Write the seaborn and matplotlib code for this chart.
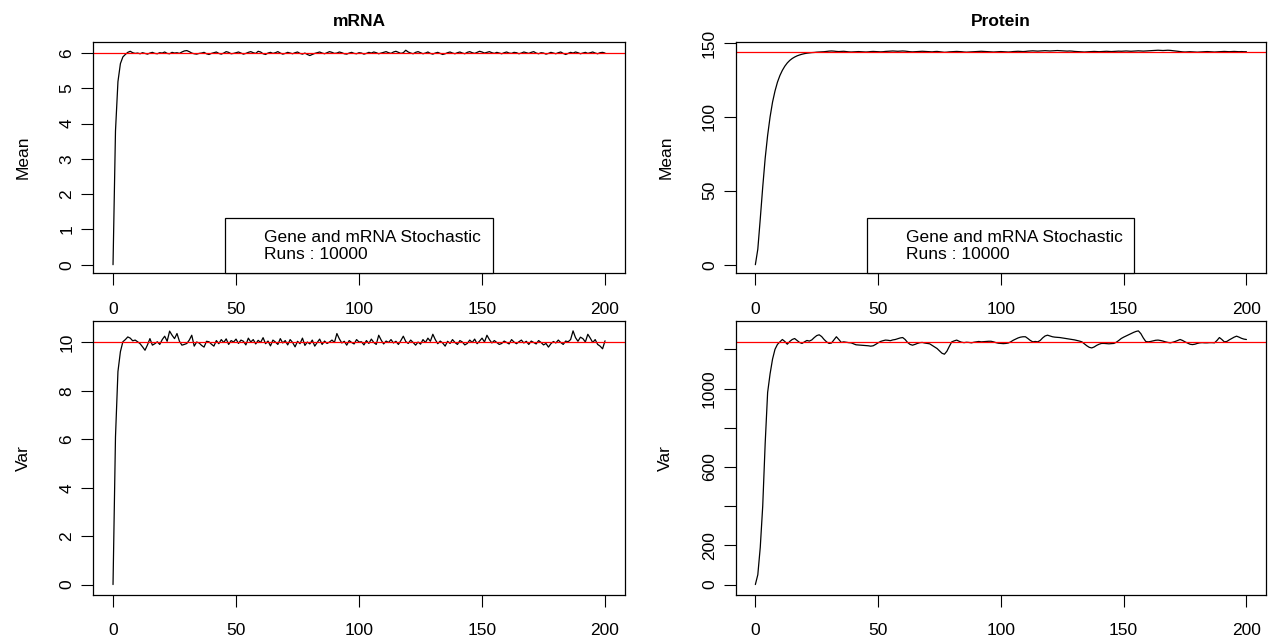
import numpy as np
import pandas as pd
import seaborn as sns
import matplotlib.pyplot as plt
from matplotlib.lines import Line2D

# time points of the simulation
time = list(range(0, 201))

# mRNA mean over 10000 runs
mrna_mean = [
    0.00, 3.79, 5.19, 5.70, 5.89, 5.96, 6.02, 6.05, 6.01, 5.99,
    6.00, 5.98, 6.01, 5.99, 5.97, 6.00, 6.02, 5.99, 5.98, 6.01,
    6.00, 6.03, 5.99, 5.98, 6.02, 6.00, 6.01, 5.99, 6.03, 6.06,
    6.07, 6.04, 6.00, 5.98, 5.97, 5.99, 6.00, 6.02, 5.98, 5.96,
    5.99, 6.01, 6.03, 5.99, 5.97, 6.00, 6.04, 6.02, 5.98, 5.99,
    6.01, 6.03, 6.00, 5.97, 5.99, 6.02, 6.04, 6.01, 5.99, 6.05,
    6.03, 5.98, 5.96, 6.00, 6.02, 5.99, 6.01, 6.04, 6.00, 5.97,
    5.99, 6.02, 6.00, 5.98, 6.01, 6.03, 5.99, 5.97, 6.00, 5.96,
    5.93, 5.96, 5.99, 6.01, 6.03, 6.00, 5.98, 6.01, 6.04, 6.02,
    5.99, 6.00, 6.03, 6.01, 5.98, 5.97, 6.00, 6.02, 5.99, 5.98,
    6.01, 6.00, 5.97, 5.99, 6.02, 6.00, 6.03, 6.01, 5.98, 6.00,
    6.02, 6.04, 6.01, 5.99, 6.03, 6.05, 6.02, 5.99, 6.01, 6.08,
    6.03, 6.00, 5.98, 6.02, 6.04, 6.01, 5.98, 6.00, 6.03, 5.99,
    5.97, 6.00, 6.02, 5.99, 5.96, 5.98, 6.01, 6.03, 6.00, 5.98,
    6.01, 6.03, 6.00, 5.98, 6.02, 6.04, 6.01, 5.99, 6.02, 6.05,
    6.03, 6.00, 6.02, 6.04, 6.01, 5.99, 6.02, 6.00, 5.98, 6.01,
    6.03, 6.00, 5.99, 6.02, 6.01, 5.98, 6.00, 6.03, 6.01, 5.99,
    6.02, 6.04, 6.00, 5.98, 6.01, 6.00, 5.97, 5.99, 6.02, 6.00,
    5.98, 6.01, 6.03, 5.99, 5.96, 5.99, 6.02, 6.00, 6.03, 6.01,
    5.98, 6.00, 6.02, 5.99, 6.01, 6.03, 6.00, 5.98, 6.01, 6.02,
    6.00,
]

# mRNA variance over 10000 runs
mrna_var = [
    0.00, 6.10, 8.80, 9.62, 10.03, 10.12, 10.23, 10.18, 10.07, 10.10,
    10.03, 9.95, 9.82, 9.68, 9.90, 10.16, 9.89, 9.95, 10.03, 9.92,
    10.12, 10.26, 10.05, 10.47, 10.30, 10.16, 10.37, 10.05, 9.89, 9.92,
    9.96, 10.10, 10.30, 9.85, 10.02, 9.98, 9.88, 9.81, 10.05, 10.03,
    9.93, 9.85, 10.08, 9.95, 10.12, 10.00, 10.15, 9.92, 10.08, 10.02,
    10.14, 9.96, 10.10, 10.05, 9.90, 10.18, 10.02, 10.12, 9.94, 10.09,
    10.00, 10.20, 9.95, 10.06, 9.86, 10.10, 10.02, 9.92, 10.16, 9.98,
    10.08, 9.90, 10.12, 10.00, 9.82, 10.05, 9.95, 10.18, 9.88, 10.02,
    9.94, 10.10, 9.85, 10.00, 10.14, 9.92, 10.06, 9.96, 10.02, 10.10,
    10.00, 10.37, 10.15, 9.98, 10.05, 9.89, 10.08, 10.00, 9.94, 10.12,
    10.02, 10.03, 9.90, 10.08, 9.96, 10.14, 10.00, 9.92, 10.30, 10.10,
    9.94, 10.06, 10.00, 10.12, 9.98, 10.05, 9.92, 10.08, 10.26, 10.04,
    9.96, 10.10, 10.00, 9.89, 10.02, 9.93, 10.12, 10.00, 10.18, 10.05,
    10.34, 10.12, 9.95, 10.06, 9.98, 9.85, 10.05, 9.96, 10.12, 10.00,
    9.92, 10.08, 10.02, 9.90, 9.96, 10.10, 10.00, 10.14, 9.95, 10.06,
    10.18, 10.02, 10.30, 10.12, 9.98, 10.08, 10.00, 9.92, 9.96, 10.06,
    10.00, 9.94, 10.12, 10.02, 9.95, 10.03, 10.10, 9.98, 10.05, 9.92,
    10.06, 10.00, 9.94, 10.08, 10.00, 9.90, 9.96, 9.81, 9.95, 10.04,
    9.98, 10.10, 10.00, 9.92, 10.06, 10.03, 10.12, 10.48, 10.20, 10.05,
    10.22, 10.16, 10.02, 10.34, 10.18, 10.00, 10.12, 9.92, 9.85, 9.74,
    10.07,
]

# protein mean over 10000 runs
protein_mean = [
    0.0, 10.5, 31.0, 52.5, 72.0, 87.5, 100.0, 110.0, 117.5, 123.5,
    128.0, 131.5, 134.3, 136.5, 138.2, 139.5, 140.5, 141.3, 141.9, 142.4,
    142.8, 143.1, 143.3, 143.5, 143.6, 143.8, 143.9, 144.0, 144.1, 144.3,
    144.5, 144.6, 144.5, 144.3, 144.2, 144.3, 144.4, 144.2, 144.0, 143.9,
    144.0, 144.1, 144.2, 144.1, 144.0, 143.9, 144.0, 144.2, 144.3, 144.2,
    144.1, 144.0, 144.1, 144.3, 144.4, 144.5, 144.6, 144.5, 144.4, 144.5,
    144.6, 144.5, 144.3, 144.1, 144.0, 144.1, 144.2, 144.3, 144.4, 144.3,
    144.2, 144.1, 144.0, 144.2, 144.3, 144.1, 143.9, 143.7, 143.8, 144.0,
    144.1, 144.2, 144.3, 144.2, 144.1, 143.9, 143.8, 143.9, 144.0, 144.1,
    144.2, 144.3, 144.4, 144.3, 144.2, 144.1, 144.0, 143.9, 144.0, 144.1,
    144.2, 144.1, 144.0, 143.9, 144.0, 144.2, 144.3, 144.4, 144.3, 144.2,
    144.3, 144.5, 144.6, 144.7, 144.6, 144.5, 144.6, 144.7, 144.8, 144.7,
    144.6, 144.7, 144.8, 144.9, 144.8, 144.7, 144.6, 144.5, 144.6, 144.5,
    144.3, 144.2, 144.1, 144.0, 143.9, 144.0, 144.1, 144.2, 144.3, 144.2,
    144.1, 144.2, 144.3, 144.4, 144.3, 144.2, 144.3, 144.4, 144.5, 144.4,
    144.5, 144.6, 144.5, 144.4, 144.5, 144.6, 144.7, 144.6, 144.5, 144.6,
    144.7, 144.8, 144.9, 145.0, 145.1, 145.0, 144.9, 145.0, 145.1, 145.0,
    144.8, 144.6, 144.4, 144.2, 144.0, 143.9, 144.0, 144.1, 144.0, 143.9,
    143.8, 143.9, 144.0, 144.1, 144.2, 144.1, 144.0, 143.9, 144.0, 144.1,
    144.2, 144.3, 144.2, 144.1, 144.2, 144.3, 144.2, 144.1, 144.2, 144.1,
    144.1,
]

# protein variance over 10000 runs
protein_var = [
    0, 50, 190, 400, 720, 980, 1075, 1150, 1200, 1225,
    1238, 1250, 1240, 1226, 1240, 1250, 1255, 1245, 1235, 1230,
    1238, 1245, 1242, 1248, 1260, 1270, 1274, 1265, 1250, 1238,
    1230, 1232, 1248, 1264, 1250, 1235, 1238, 1236, 1234, 1233,
    1228, 1223, 1222, 1221, 1220, 1219, 1218, 1216, 1218, 1225,
    1233, 1240, 1244, 1247, 1246, 1244, 1248, 1250, 1254, 1258,
    1260, 1250, 1235, 1225, 1221, 1225, 1230, 1234, 1235, 1232,
    1230, 1228, 1220, 1212, 1204, 1192, 1180, 1175, 1190, 1215,
    1238, 1243, 1247, 1241, 1236, 1234, 1236, 1235, 1233, 1236,
    1238, 1240, 1238, 1239, 1240, 1241, 1241, 1238, 1234, 1231,
    1230, 1229, 1230, 1232, 1238, 1246, 1252, 1258, 1262, 1264,
    1264, 1255, 1245, 1238, 1240, 1238, 1245, 1258, 1268, 1272,
    1268, 1264, 1262, 1261, 1260, 1258, 1256, 1254, 1252, 1250,
    1248, 1245, 1242, 1238, 1228, 1218, 1210, 1207, 1212, 1220,
    1226, 1230, 1230, 1229, 1228, 1229, 1230, 1236, 1245, 1255,
    1262, 1268, 1274, 1280, 1286, 1291, 1294, 1280, 1258, 1240,
    1238, 1240, 1243, 1246, 1247, 1245, 1242, 1238, 1235, 1233,
    1236, 1240, 1245, 1250, 1245, 1238, 1232, 1226, 1224, 1226,
    1230, 1233, 1234, 1233, 1233, 1234, 1234, 1233, 1245, 1260,
    1250, 1238, 1240, 1248, 1255, 1262, 1267, 1262, 1256, 1252,
    1250,
]

# theoretical steady state values (red lines)
mrna_mean_theory = 6
mrna_var_theory = 10
protein_mean_theory = 144
protein_var_theory = 1238

legend_lines = ["Gene and mRNA Stochastic", "Runs : 10000"]

x_ticks = [0, 50, 100, 150, 200]
mrna_mean_ticks = [0, 1, 2, 3, 4, 5, 6]
protein_mean_ticks = [0, 50, 100, 150]
mrna_var_ticks = [0, 2, 4, 6, 8, 10]
protein_var_ticks = [0, 200, 400, 600, 800, 1000, 1200]
protein_var_labels = ["0", "200", "", "600", "", "1000", ""]

FONT_SIZE = 12.5

sns.set_style("white")
plt.rcParams["font.family"] = ["Liberation Sans", "DejaVu Sans"]
plt.rcParams["font.size"] = FONT_SIZE
plt.rcParams["text.color"] = "black"
plt.rcParams["axes.labelcolor"] = "black"
plt.rcParams["xtick.color"] = "black"
plt.rcParams["ytick.color"] = "black"

fig = plt.figure(figsize=(12.7, 6.37), dpi=100)

# axes placed like the R layout (left, bottom, width, height)
ax_mm = fig.add_axes([0.0735, 0.571, 0.4184, 0.3636])
ax_pm = fig.add_axes([0.5793, 0.571, 0.4176, 0.3636])
ax_mv = fig.add_axes([0.0735, 0.0664, 0.4184, 0.4301])
ax_pv = fig.add_axes([0.5793, 0.0664, 0.4176, 0.4301])


def draw_panel(ax, values, theory, ylabel, yticks, ylabels=None, title=None, legend=False):
    df = pd.DataFrame({"time": time, "value": values})
    sns.lineplot(data=df, x="time", y="value", ax=ax, color="black", linewidth=0.9)
    ax.axhline(theory, color="red", linewidth=0.9)

    # R style 4% padding around the data
    ax.margins(x=0.04, y=0.04)

    ax.set_xticks(x_ticks)
    ax.set_yticks(yticks)
    if ylabels is not None:
        ax.set_yticklabels(ylabels)
    for lab in ax.get_yticklabels():
        lab.set_rotation(90)
        lab.set_va("center")

    ax.tick_params(axis="both", direction="out", length=8.5, width=0.8,
                   color="black", labelcolor="black", labelsize=FONT_SIZE,
                   bottom=True, left=True)
    ax.tick_params(axis="x", pad=12)
    ax.tick_params(axis="y", pad=5)

    for sp in ax.spines.values():
        sp.set_visible(True)
        sp.set_color("black")
        sp.set_linewidth(0.9)

    ax.set_xlabel("")
    ax.set_ylabel(ylabel, fontsize=FONT_SIZE, color="black")
    ax.yaxis.set_label_coords(-0.118, 0.5)

    if title:
        ax.set_title(title, fontsize=FONT_SIZE, fontweight="bold", pad=11, color="black")

    if legend:
        handles = [Line2D([], [], color="none") for _ in legend_lines]
        leg = ax.legend(handles, legend_lines, loc="lower center", frameon=True,
                        fancybox=False, edgecolor="black", framealpha=1,
                        borderaxespad=0, handlelength=0.8, handletextpad=0.8,
                        labelspacing=0.12, borderpad=0.65, fontsize=FONT_SIZE)
        leg.get_frame().set_linewidth(0.9)


draw_panel(ax_mm, mrna_mean, mrna_mean_theory, "Mean", mrna_mean_ticks,
           title="mRNA", legend=True)
draw_panel(ax_pm, protein_mean, protein_mean_theory, "Mean", protein_mean_ticks,
           title="Protein", legend=True)
draw_panel(ax_mv, mrna_var, mrna_var_theory, "Var", mrna_var_ticks)
draw_panel(ax_pv, protein_var, protein_var_theory, "Var", protein_var_ticks,
           ylabels=protein_var_labels)

plt.savefig("out.png", dpi=100)
plt.close()
